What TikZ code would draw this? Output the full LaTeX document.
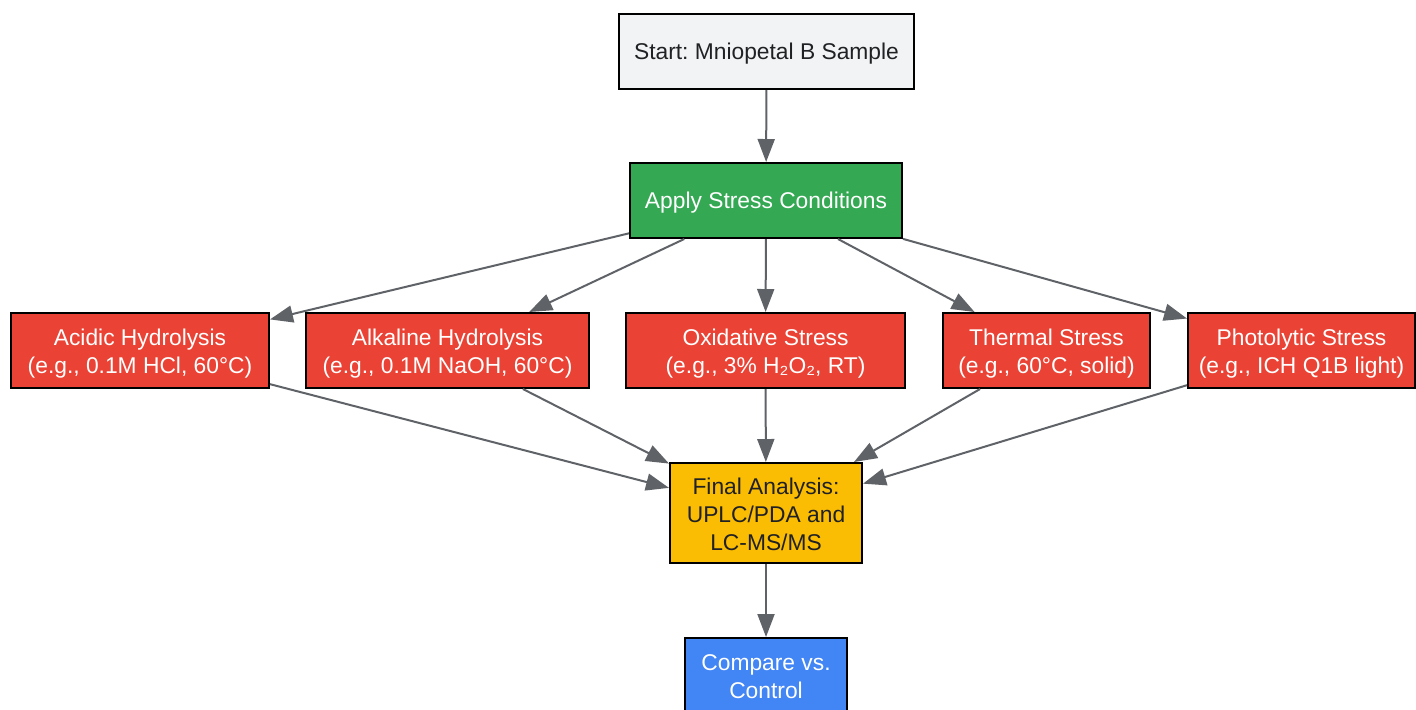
\documentclass[tikz,border=0pt]{standalone}
\usepackage{fontspec}
\setmainfont{Liberation Sans}
\usetikzlibrary{arrows.meta}
\definecolor{startgray}{HTML}{F1F3F4}
\definecolor{stressgreen}{HTML}{34A853}
\definecolor{condred}{HTML}{EA4335}
\definecolor{finalyellow}{HTML}{FBBC04}
\definecolor{compareblue}{HTML}{4285F4}
\definecolor{arrowgray}{HTML}{5F6368}
\definecolor{textdark}{HTML}{202124}
\frenchspacing

\begin{document}
\begin{tikzpicture}[x=0.5pt,y=-0.5pt,
    box/.style={rectangle,draw=black,line width=1pt,align=center,
      font=\fontsize{11.4}{14}\selectfont,inner sep=0pt,minimum height=37.5pt,
      execute at begin node={\rule{0pt}{0.95em}},
      execute at end node={\rule[-0.25em]{0pt}{0pt}}},
    multi/.style={execute at begin node={\rule{0pt}{#1}}},
    darkbox/.style={box,text=textdark},
    lightbox/.style={box,text=white},
    flow/.style={color=arrowgray,line width=1pt,-{Triangle[length=11.5pt,width=8.5pt]}}]
\useasboundingbox (0,0) rectangle (1416,709);
      \node [darkbox,fill=startgray,minimum width=147.5pt] at (766.5,51.5) (start) {Start: Mniopetal B Sample};
       \node [lightbox,fill=stressgreen,minimum width=136pt] at (766,200.5) (stress) {Apply Stress Conditions};
         \node [lightbox,multi=26pt,fill=condred,minimum width=129pt] at (140,350.5) (acid) {Acidic Hydrolysis\\(e.g., 0.1M HCl, 60°C)};
          \node [lightbox,multi=26pt,fill=condred,minimum width=141.5pt] at (447.5,350.5) (alkali) {Alkaline Hydrolysis\\(e.g., 0.1M NaOH, 60°C)};
           \node [lightbox,multi=26pt,fill=condred,minimum width=139.5pt] at (765.5,350.5) (oxid) {Oxidative Stress\\(e.g., 3\% H₂O₂, RT)};
            \node [lightbox,multi=26pt,fill=condred,minimum width=103.5pt] at (1046.5,350.5) (thermal) {Thermal Stress\\(e.g., 60°C, solid)};
             \node [lightbox,multi=26pt,fill=condred,minimum width=113.5pt] at (1301.5,350.5) (photo) {Photolytic Stress\\(e.g., ICH Q1B light)};
              \node [darkbox,multi=40.3pt,fill=finalyellow,minimum width=96pt,minimum height=50pt] at (766,513) (final) {Final Analysis:\\UPLC/PDA and\\LC-MS/MS};
               \node [lightbox,multi=25.5pt,fill=compareblue,minimum width=81pt] at (766,675.5) (compare) {Compare vs.\\Control};
%
%
\draw[flow] (start) -- (stress);
\draw[flow] (stress) -- (acid);
\draw[flow] (stress) -- (alkali);
\draw[flow] (stress) -- (oxid);
\draw[flow] (stress) -- (thermal);
\draw[flow] (stress) -- (photo);
\draw[flow] (acid) -- (final);
\draw[flow] (alkali) -- (final);
\draw[flow] (oxid) -- (final);
\draw[flow] (thermal) -- (final);
\draw[flow] (photo) -- (final);
\draw[flow] (final) -- (compare);

\end{tikzpicture}
\end{document}
